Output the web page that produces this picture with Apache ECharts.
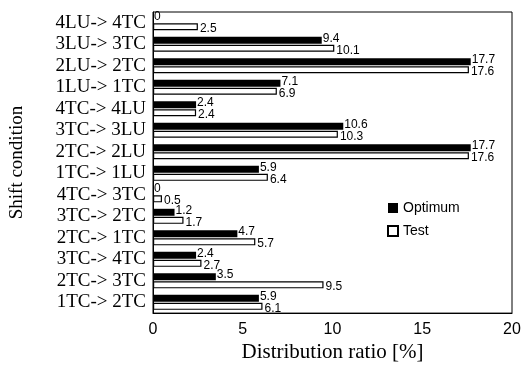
<!DOCTYPE html>
<html><head><meta charset="utf-8">
<script src="https://cdn.jsdelivr.net/npm/echarts@6/dist/echarts.min.js"></script>
<style>html,body{margin:0;padding:0;background:#fff}#c{width:526px;height:368px}</style>
</head><body><div id="c"></div>
<script>
var categories = ['4LU-> 4TC','3LU-> 3TC','2LU-> 2TC','1LU-> 1TC','4TC-> 4LU','3TC-> 3LU','2TC-> 2LU','1TC-> 1LU','4TC-> 3TC','3TC-> 2TC','2TC-> 1TC','3TC-> 4TC','2TC-> 3TC','1TC-> 2TC'];
var optimum = [0, 9.4, 17.7, 7.1, 2.4, 10.6, 17.7, 5.9, 0, 1.2, 4.7, 2.4, 3.5, 5.9];
var test = [2.5, 10.1, 17.6, 6.9, 2.4, 10.3, 17.6, 6.4, 0.5, 1.7, 5.7, 2.7, 9.5, 6.1];
var xTicks = [0, 5, 10, 15, 20];

var chart = echarts.init(document.getElementById('c'));
chart.setOption({
  animation: false,
  grid: {left: 151, right: 14, top: 12, bottom: 52, show: true, borderColor: '#000', borderWidth: 1},
  legend: {
    orient: 'vertical', left: 382, top: 196, itemWidth: 10, itemHeight: 10, itemGap: 9,
    textStyle: {fontFamily: 'Liberation Sans', fontSize: 14, color: '#000'},
    data: [{name: 'Optimum', icon: 'rect'}, {name: 'Test', icon: 'rect'}]
  },
  xAxis: {
    type: 'value', min: xTicks[0], max: xTicks[xTicks.length-1], interval: 5,
    name: 'Distribution ratio [%]', nameLocation: 'middle', nameGap: 28,
    nameTextStyle: {fontFamily: 'Liberation Serif', fontSize: 21, color: '#000'},
    axisLine: {show: true, lineStyle: {color: '#000'}},
    axisTick: {show: false},
    splitLine: {show: false},
    axisLabel: {fontFamily: 'Liberation Sans', fontSize: 16, color: '#000', margin: 8}
  },
  yAxis: {
    type: 'category', data: categories, inverse: true,
    name: 'Shift condition', nameLocation: 'middle', nameGap: 126,
    nameTextStyle: {fontFamily: 'Liberation Serif', fontSize: 19, color: '#000'},
    axisLine: {show: true, lineStyle: {color: '#000'}},
    axisTick: {show: false},
    axisLabel: {interval: 0, fontFamily: 'Liberation Serif', fontSize: 19, color: '#000', margin: 7}
  },
  series: [
    {name: 'Optimum', type: 'bar', data: optimum, barWidth: 7, barGap: '15%',
     itemStyle: {color: '#000'},
     label: {show: true, position: 'right', distance: 1, offset: [0, -2], fontFamily: 'Liberation Sans', fontSize: 12, color: '#000'}},
    {name: 'Test', type: 'bar', data: test, barWidth: 7,
     itemStyle: {color: '#fff', borderColor: '#000', borderWidth: 1.2},
     label: {show: true, position: 'right', distance: 2, offset: [0, 2], fontFamily: 'Liberation Sans', fontSize: 12, color: '#000'}}
  ]
});
</script></body></html>
